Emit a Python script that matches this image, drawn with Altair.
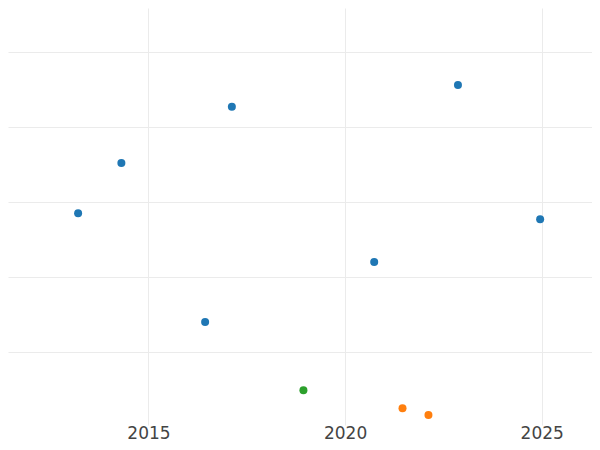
import altair as alt
import pandas as pd

years = [2013.21, 2014.31, 2016.44, 2017.12, 2018.94, 2020.74, 2021.46, 2022.12, 2022.87, 2024.96]
values = [2.85, 3.52, 1.40, 4.27, 0.49, 2.20, 0.25, 0.16, 4.56, 2.77]
groups = ["A", "A", "A", "A", "C", "A", "B", "B", "A", "A"]

group_names = ["A", "B", "C"]
group_colors = ["#1f77b4", "#ff7f0e", "#2ca02c"]
x_ticks = [2015, 2020, 2025]
y_grid = [1, 2, 3, 4, 5]

df = pd.DataFrame({"year": years, "value": values, "group": groups})

chart = alt.Chart(df).mark_circle(size=64, opacity=1).encode(
    x=alt.X("year:Q",
            scale=alt.Scale(domain=[2011.427, 2026.279], nice=False, zero=False),
            axis=alt.Axis(values=x_ticks, format="d", title=None, ticks=False, domain=False,
                          labelFont="DejaVu Sans", labelFontSize=17, labelColor="#444444",
                          labelPadding=0, gridColor="#ebebeb", gridWidth=1)),
    y=alt.Y("value:Q",
            scale=alt.Scale(domain=[0.0267, 5.587], nice=False, zero=False),
            axis=alt.Axis(values=y_grid, labels=False, ticks=False, domain=False, title=None,
                          gridColor="#ebebeb", gridWidth=1)),
    color=alt.Color("group:N", scale=alt.Scale(domain=group_names, range=group_colors), legend=None),
).properties(
    width=584, height=417,
    autosize=alt.AutoSizeParams(type="none"),
    padding={"left": 0, "top": 0, "right": 0, "bottom": 17},
).configure_view(stroke=None)

chart.save("out.html", embed_options={"renderer": "svg", "actions": False})
